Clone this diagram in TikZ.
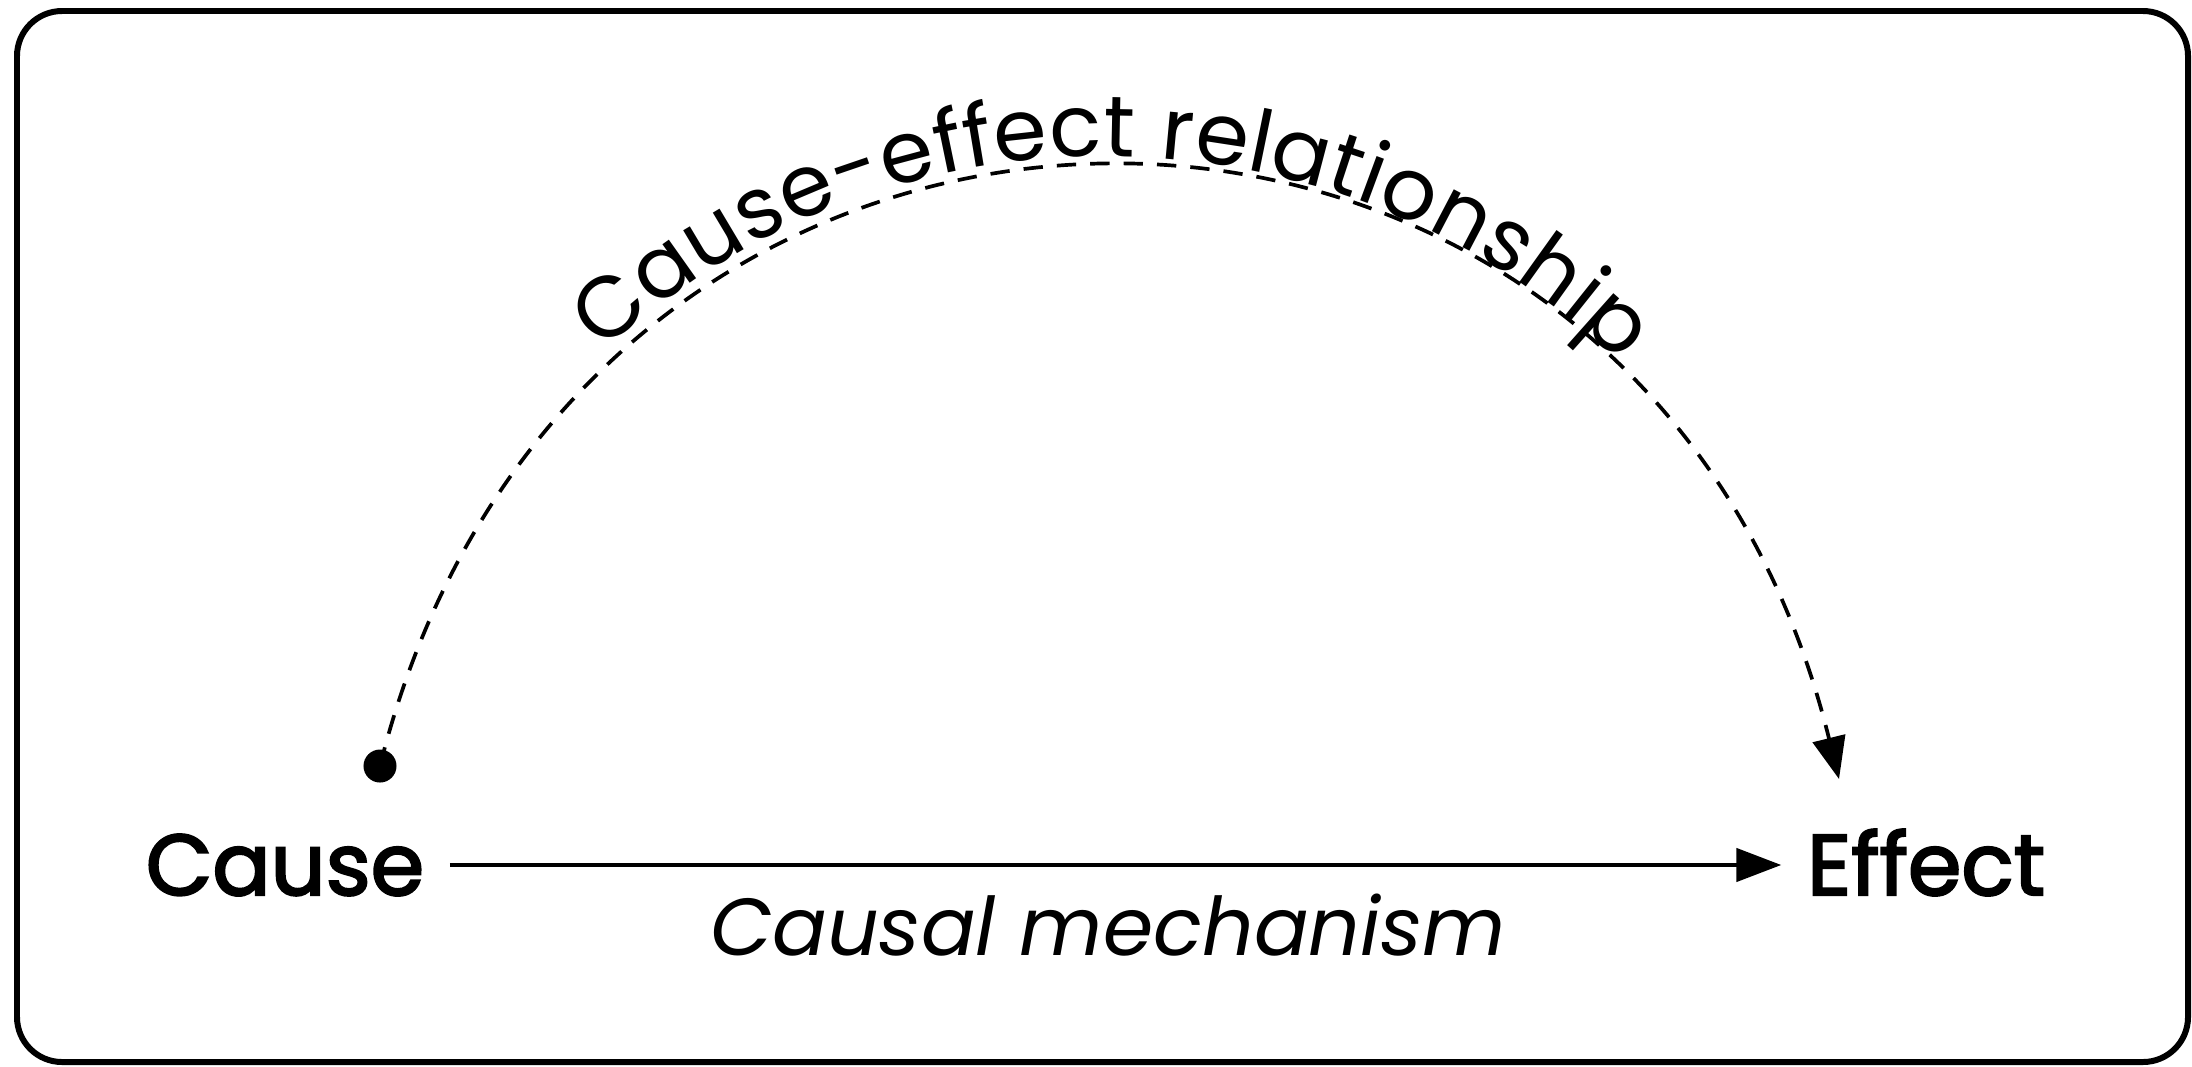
\documentclass[tikz,border=0pt]{standalone}
\usepackage{fontspec}
\setmainfont{Poppins}
\newfontfamily\medfont{Poppins}[FakeBold=2.6]
\usetikzlibrary{arrows.meta,decorations.text}
\newcommand{\bigfont}{\fontsize{24.5}{29}\selectfont}
\newcommand{\arcfont}{\fontsize{24.5}{29}\selectfont}
\tikzset{
  frame/.style={line width=1.7pt, rounded corners=0.45cm},
  term/.style={font=\medfont\bigfont, inner sep=0.25cm, anchor=base},
  mechlabel/.style={font=\fontsize{23}{28}\selectfont\itshape, inner sep=0, anchor=base},
  mainarrow/.style={line width=1.3pt, -{Triangle[length=0.45cm,width=0.33cm]}},
  arcarrow/.style={line width=1.05pt, dash pattern=on 5.5pt off 4pt, -{Triangle[length=0.42cm,width=0.33cm]}},
  dotnode/.style={circle, fill=black, inner sep=0, minimum size=0.33cm}
}
\begin{document}
\begin{tikzpicture}[x=0.01cm,y=-0.01cm]
\useasboundingbox (0,0) rectangle (2192,1066);
\draw[frame] (17,11) rectangle (2188,1062);
\node[term] (cause) at (285,895) {Cause};
\node[term] (effect) at (1926,895) {Effect};
\node[mechlabel] (mech) at (1108,955) {Causal mechanism};
\draw[mainarrow] (cause.east) -- (cause.east -| effect.west);
\node[dotnode] (dot) at (380,766) {};
\coordinate (tip) at (1839,779);
\draw[arcarrow] (dot.center) .. controls (580,-33) and (1638,-33) .. (tip);
\path[decorate, decoration={text along path, text align=center, raise=0.12cm,
  text={|\arcfont|Cause-effect  relationship}}]
  (dot.center) .. controls (580,-33) and (1638,-33) .. (tip);
\end{tikzpicture}
\end{document}
